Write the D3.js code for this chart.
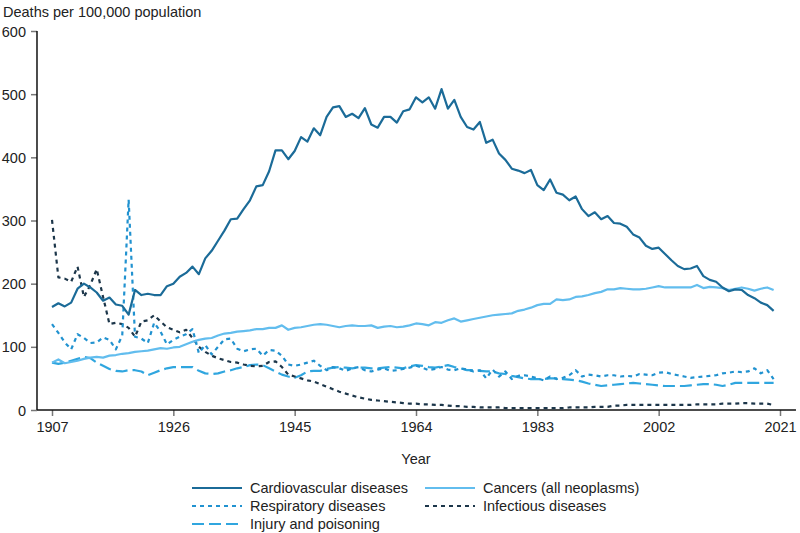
<!DOCTYPE html>
<html>
<head>
<meta charset="utf-8">
<script src="https://cdn.jsdelivr.net/npm/d3@7"></script>
<style>
  body { margin: 0; background: #fff; }
  svg text { font-family: "Liberation Sans", Arial, sans-serif; fill: #222; }
</style>
</head>
<body>
<svg id="chart" width="800" height="533"></svg>
<script>
// years 1907 to 2020, one value per year
const firstYear = 1907;
const lastYear = 2020;
const tickYears = [1907, 1926, 1945, 1964, 1983, 2002, 2021];
const yTicks = [0, 100, 200, 300, 400, 500, 600];

const cardiovascular = [
  163,169,164,170,192,200,194,186,173,178,167,165,151,190,182,184,182,182,196,200,
  211,217,227,215,240,252,268,284,302,303,318,332,354,356,378,411,411,397,410,432,
  425,446,435,464,479,481,464,469,462,478,452,447,464,464,455,473,476,495,487,495,
  477,508,477,491,464,448,444,456,423,428,406,396,382,379,375,380,356,348,365,344,
  341,332,338,318,307,313,302,307,296,295,290,278,273,260,255,257,247,237,228,223,
  224,228,212,206,203,194,188,191,190,182,177,170,166,157
];
const cancers = [
  75,80,74,76,78,81,83,84,83,86,87,89,90,92,93,94,96,98,97,99,
  100,104,108,111,113,114,118,121,122,124,125,126,128,128,130,130,134,127,130,131,
  133,135,136,135,133,131,133,134,133,133,134,130,132,133,131,132,134,137,136,134,
  139,138,142,145,140,142,144,146,148,150,151,152,153,157,159,162,166,168,168,175,
  174,175,179,180,182,185,187,191,191,193,192,191,191,192,194,196,194,194,194,194,
  194,198,193,195,194,193,190,192,194,192,189,192,194,190
];
const respiratory = [
  136,122,107,96,120,114,106,107,115,111,96,118,333,116,113,106,138,124,104,111,
  116,120,128,90,103,88,100,112,113,97,93,96,97,86,95,94,86,72,70,72,
  75,78,70,63,68,66,62,66,68,63,61,64,66,62,63,65,67,70,67,63,
  65,68,64,63,66,64,61,63,50,64,53,61,49,54,55,53,50,47,53,49,
  51,55,63,53,56,55,53,55,55,53,54,53,57,56,55,59,60,57,55,53,
  51,52,53,54,55,58,59,61,60,61,66,58,63,49
];
const infectious = [
  301,210,208,203,227,179,198,223,179,136,138,136,130,116,140,142,150,140,131,127,
  123,127,114,100,92,86,82,79,76,75,72,70,69,70,76,77,68,56,53,50,
  47,45,41,37,33,29,26,23,20,18,16,15,14,13,12,11,10,10,9,9,
  8,8,7,6,6,5,5,4,4,4,4,3,3,3,3,3,3,3,3,3,
  3,4,4,4,4,5,5,5,7,7,8,8,8,8,8,8,8,8,8,8,
  8,9,9,9,9,10,10,10,11,11,10,10,10,8
];
const injury = [
  75,73,75,78,81,84,82,75,70,65,62,61,63,63,61,55,59,63,66,68,
  68,68,68,62,58,57,58,61,63,66,68,71,72,71,66,61,56,53,51,55,
  61,62,62,65,67,68,67,66,67,67,66,66,67,68,67,66,69,71,70,68,
  67,69,71,68,66,63,63,62,61,61,58,57,54,52,50,49,49,49,50,50,
  49,48,47,45,42,40,38,39,40,41,42,43,42,41,40,39,38,38,38,38,
  39,40,41,41,40,38,40,43,43,43,43,43,43,43
];

const years = d3.range(firstYear, lastYear + 1);

const series = [
  { name: "Cardiovascular diseases", values: cardiovascular, color: "#1b6b98", dash: null },
  { name: "Cancers (all neoplasms)", values: cancers, color: "#62bdee", dash: null },
  { name: "Respiratory diseases", values: respiratory, color: "#2192d0", dash: "4,4" },
  { name: "Infectious diseases", values: infectious, color: "#1c364a", dash: "4,4" },
  { name: "Injury and poisoning", values: injury, color: "#30a6df", dash: "12,5" }
];

const fontSize = 14.5;
const svg = d3.select("#chart");

const x = d3.scaleLinear().domain([1907, 2021]).range([52, 780]);
const y = d3.scaleLinear().domain([0, 600]).range([410, 31]);

const axisLeftX = x(1904.65);
const axisRightX = x(2023.5);

// axes
const xAxis = svg.append("g")
  .attr("transform", `translate(0,${y(0)})`)
  .call(d3.axisBottom(x).tickValues(tickYears).tickFormat(d3.format("d")).tickSize(6).tickPadding(6));
xAxis.select(".domain").remove();
xAxis.selectAll(".tick line").attr("stroke", "#777").attr("stroke-width", 1.5);
xAxis.selectAll("text").attr("font-size", fontSize);

const yAxis = svg.append("g")
  .attr("transform", `translate(${axisLeftX},0)`)
  .call(d3.axisLeft(y).tickValues(yTicks).tickSize(6).tickPadding(5));
yAxis.select(".domain").remove();
yAxis.selectAll(".tick line").attr("stroke", "#777").attr("stroke-width", 1.5);
yAxis.selectAll("text").attr("font-size", fontSize).attr("dy", "0.35em");

svg.append("line")
  .attr("x1", axisLeftX).attr("x2", axisRightX)
  .attr("y1", y(0)).attr("y2", y(0))
  .attr("stroke", "#111").attr("stroke-width", 1.5);
svg.append("line")
  .attr("x1", axisLeftX).attr("x2", axisLeftX)
  .attr("y1", y(0)).attr("y2", y(600))
  .attr("stroke", "#111").attr("stroke-width", 1.5);

// titles
svg.append("text")
  .attr("x", 3).attr("y", 17)
  .attr("font-size", fontSize)
  .text("Deaths per 100,000 population");

svg.append("text")
  .attr("x", x(1964)).attr("y", 464)
  .attr("text-anchor", "middle")
  .attr("font-size", fontSize)
  .text("Year");

// lines, drawn back to front
const line = d3.line()
  .x((d, i) => x(years[i]))
  .y(d => y(d));

const drawOrder = [4, 3, 2, 1, 0];
drawOrder.forEach(k => {
  const s = series[k];
  svg.append("path")
    .datum(s.values)
    .attr("fill", "none")
    .attr("stroke", s.color)
    .attr("stroke-width", 2.2)
    .attr("stroke-linejoin", "round")
    .attr("stroke-dasharray", s.dash)
    .attr("d", line);
});

// legend
const legendCols = [192, 425];
const legendRows = [488, 506, 524];
const legend = svg.append("g");
series.forEach((s, i) => {
  const lx = legendCols[i % 2];
  const ly = legendRows[Math.floor(i / 2)];
  legend.append("line")
    .attr("x1", lx).attr("x2", lx + 50)
    .attr("y1", ly).attr("y2", ly)
    .attr("stroke", s.color)
    .attr("stroke-width", 2.2)
    .attr("stroke-dasharray", s.dash);
  legend.append("text")
    .attr("x", lx + 58).attr("y", ly)
    .attr("dy", "0.35em")
    .attr("font-size", fontSize)
    .text(s.name);
});
</script>
</body>
</html>
